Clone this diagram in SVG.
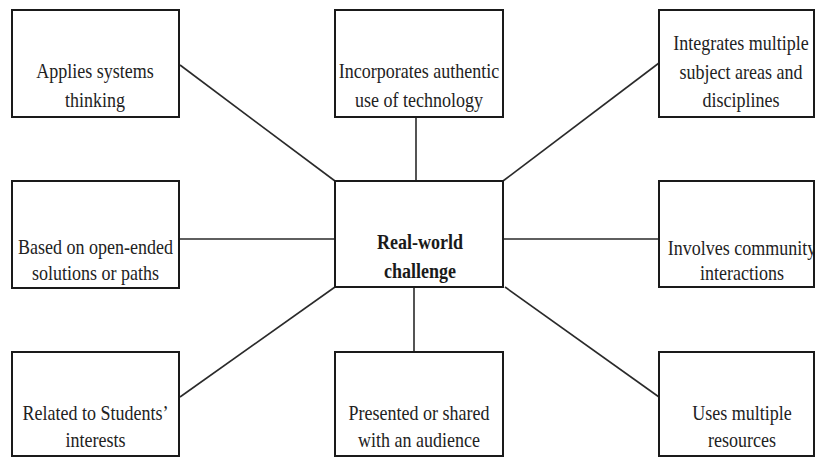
<svg xmlns="http://www.w3.org/2000/svg" width="815" height="457" viewBox="0 0 815 457">
<style>
.box{fill:#fff;stroke:#1a1a1a;stroke-width:2}
.t{font-size:20px;fill:#222;text-anchor:middle}
.b{font-size:22px;font-weight:bold;fill:#1a1a1a;text-anchor:middle}
.c{stroke:#2a2a2a;stroke-width:1.6;fill:none}
</style>
<rect width="815" height="457" fill="#fff"/>
<g id="connectors">
<line class="c" x1="180" y1="65" x2="335" y2="181"/>
<line class="c" x1="416" y1="117" x2="416" y2="181"/>
<line class="c" x1="659" y1="63" x2="503" y2="181"/>
<line class="c" x1="179" y1="239" x2="335" y2="239"/>
<line class="c" x1="503" y1="239" x2="659" y2="239"/>
<line class="c" x1="180" y1="397" x2="335" y2="287"/>
<line class="c" x1="414" y1="287" x2="414" y2="352"/>
<line class="c" x1="505" y1="287" x2="659" y2="397"/>
</g>
<g font-family="Liberation Serif, DejaVu Serif, serif">
<g id="n-systems">
<rect class="box" x="12" y="10" width="167" height="107"/>
<text class="t" transform="translate(95 78) scale(0.9 1)">Applies systems</text>
<text class="t" transform="translate(95 107) scale(0.9 1)">thinking</text>
</g>
<g id="n-technology">
<rect class="box" x="335" y="10" width="168" height="107"/>
<text class="t" transform="translate(419 78) scale(0.9 1)">Incorporates authentic</text>
<text class="t" transform="translate(419 107) scale(0.9 1)">use of technology</text>
</g>
<g id="n-subjects">
<rect class="box" x="659" y="10" width="155" height="107"/>
<text class="t" transform="translate(741 50) scale(0.9 1)">Integrates multiple</text>
<text class="t" transform="translate(741 79) scale(0.9 1)">subject areas and</text>
<text class="t" transform="translate(741 107) scale(0.9 1)">disciplines</text>
</g>
<g id="n-openended">
<rect class="box" x="12" y="181" width="167" height="107"/>
<text class="t" transform="translate(95.5 254) scale(0.9 1)">Based on open-ended</text>
<text class="t" transform="translate(95.5 280) scale(0.9 1)">solutions or paths</text>
</g>
<g id="n-center">
<rect class="box" x="335" y="181" width="168" height="106"/>
<text class="b" transform="translate(420 249) scale(0.82 1)">Real-world</text>
<text class="b" transform="translate(420 278) scale(0.82 1)">challenge</text>
</g>
<g id="n-community">
<rect class="box" x="659" y="181" width="155" height="106"/>
<text class="t" transform="translate(742 255) scale(0.9 1)">Involves community</text>
<text class="t" transform="translate(742 280) scale(0.9 1)">interactions</text>
</g>
<g id="n-interests">
<rect class="box" x="12" y="352" width="167" height="104"/>
<text class="t" transform="translate(95.5 420) scale(0.9 1)">Related to Students’</text>
<text class="t" transform="translate(95.5 447) scale(0.9 1)">interests</text>
</g>
<g id="n-audience">
<rect class="box" x="335" y="352" width="168" height="104"/>
<text class="t" transform="translate(419 420) scale(0.9 1)">Presented or shared</text>
<text class="t" transform="translate(419 447) scale(0.9 1)">with an audience</text>
</g>
<g id="n-resources">
<rect class="box" x="659" y="352" width="155" height="104"/>
<text class="t" transform="translate(742 420) scale(0.9 1)">Uses multiple</text>
<text class="t" transform="translate(742 447) scale(0.9 1)">resources</text>
</g>
</g>
</svg>
